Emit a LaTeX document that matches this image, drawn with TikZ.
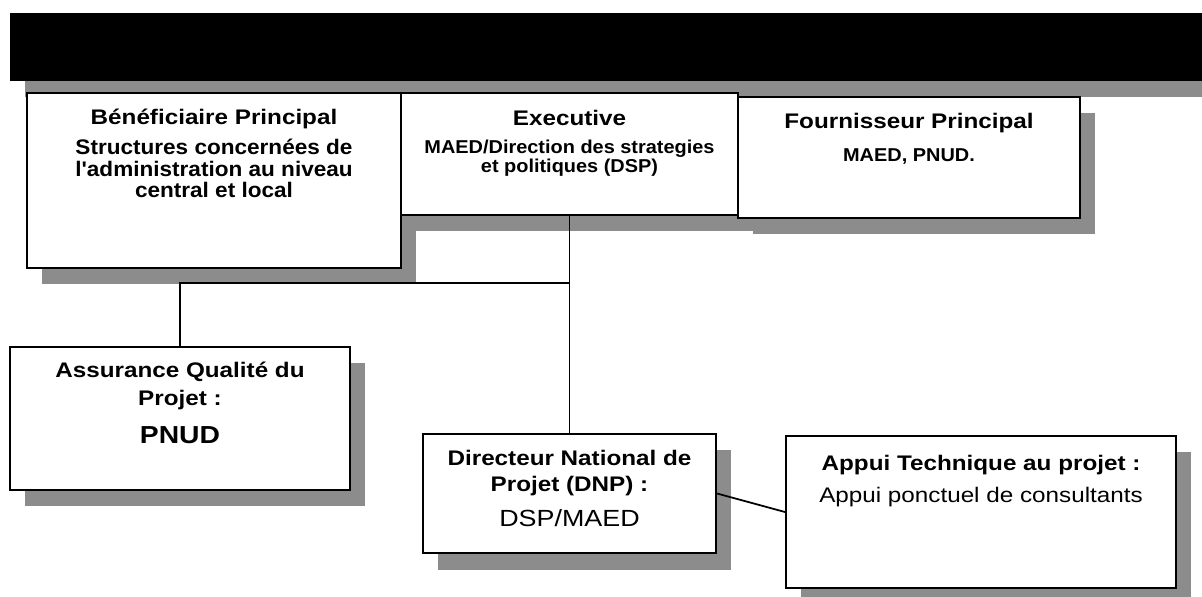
\documentclass[tikz,border=0pt]{standalone}
\usepackage{fontspec}
\setmainfont{Liberation Sans}[FakeStretch=1.15]
\newfontfamily\scanfont{Liberation Sans Bold}[FakeStretch=1.07]
\usetikzlibrary{fit,shadows}

\begin{document}
\begin{tikzpicture}[x=0.02cm,y=-0.02cm,
	box/.style={draw,line width=1.2pt,fill=white,inner sep=0pt,
		drop shadow={shadow xshift=0.3cm,shadow yshift=-0.33cm,fill=black!45,opacity=1}},
	txt/.style={anchor=north,inner sep=0pt,align=center},
	link/.style={line width=1pt}]
	\useasboundingbox (0,0) rectangle (1202,597);
	\node[box,fill=black,draw=none,fit={(10,13) (1202,81)}] (banner) {};
	\node[box,fit={(27,93) (401,268)}] (ben) {};
	\node[box,fit={(401,93) (738,215)}] (exe) {};
	\node[box,fit={(738,97) (1080,218)}] (four) {};
	\node[box,fit={(10,347) (350,490)}] (aq) {};
	\node[box,fit={(423,434) (716,553)}] (dnp) {};
	\node[box,fit={(786,436) (1176,588)}] (app) {};
	\node[txt,font={\fontsize{12}{12.2}\selectfont\bfseries}] (ben-t) at (214,109) {Bénéficiaire Principal};
	\node[txt,font={\scanfont\fontsize{12}{12.2}\selectfont}] (ben-b) at (214,139) {Structures concernées de\\l'administration au niveau\\central et local};
	\node[txt,font={\fontsize{12}{12.2}\selectfont\bfseries}] (exe-t) at (569.5,110) {Executive};
	\node[txt,font={\scanfont\fontsize{10.6}{10.8}\selectfont}] (exe-b) at (569.5,140) {MAED/Direction des strategies\\et politiques (DSP)};
	\node[txt,font={\fontsize{12}{12.2}\selectfont\bfseries}] (four-t) at (909,113) {Fournisseur Principal};
	\node[txt,font={\scanfont\fontsize{10.6}{10.8}\selectfont}] (four-b) at (909,148) {MAED, PNUD.};
	\node[txt,font={\fontsize{12}{16}\selectfont\bfseries}] (aq-t) at (180,362) {Assurance Qualité du\\Projet :};
	\node[txt,font={\fontsize{14}{16}\selectfont\bfseries}] (aq-b) at (180,426) {PNUD};
	\node[txt,font={\fontsize{12}{14.8}\selectfont\bfseries}] (dnp-t) at (569.5,450) {Directeur National de\\Projet (DNP) :};
	\node[txt,font={\fontsize{13.3}{15}\selectfont}] (dnp-b) at (569.5,509) {DSP/MAED};
	\node[txt,font={\fontsize{12}{14}\selectfont\bfseries}] (app-t) at (981,455) {Appui Technique au projet :};
	\node[txt,font={\fontsize{12}{14}\selectfont}] (app-b) at (981,487) {Appui ponctuel de consultants};
	\coordinate (hub) at (0,283);
	\draw[link] (aq.north) -- (aq.north |- hub) -- (exe.south |- hub);
	\draw[link] (exe.south) -- (dnp.north);
	\draw[link] (dnp.east) -- (app.west);
\end{tikzpicture}
\end{document}
